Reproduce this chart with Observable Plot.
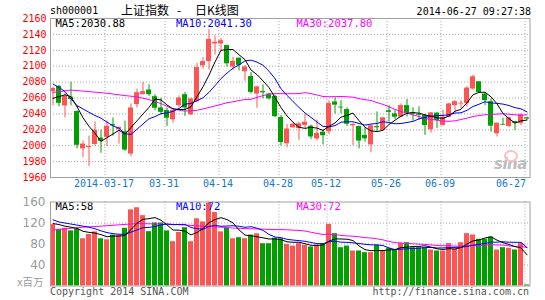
<!DOCTYPE html>
<html>
<head>
<meta charset="utf-8">
<script src="https://cdn.jsdelivr.net/npm/d3@7"></script>
<script src="https://cdn.jsdelivr.net/npm/@observablehq/plot@0.6"></script>
<style>
html,body{margin:0;padding:0;background:#fff;}
#wrap{position:relative;width:545px;height:300px;overflow:hidden;background:#fff;}
.t{position:absolute;white-space:pre;font-family:"DejaVu Sans Mono",monospace;font-size:10px;line-height:12px;color:#000;}
.cjk{font-family:"Noto Sans CJK SC",sans-serif;font-size:12px;line-height:14px;}
#main{position:absolute;left:0;top:0;}
#vol{position:absolute;left:0;top:190px;}
svg{overflow:visible;}
</style>
</head>
<body>
<div id="wrap">
  <div id="main"></div>
  <div id="vol"></div>
</div>
<script>
// ---------- data ----------
const dates = ["03-04","03-05","03-06","03-07","03-10","03-11","03-12","03-13","03-14","03-17",
"03-18","03-19","03-20","03-21","03-24","03-25","03-26","03-27","03-28","03-31",
"04-01","04-02","04-03","04-04","04-08","04-09","04-10","04-11","04-14","04-15",
"04-16","04-17","04-18","04-21","04-22","04-23","04-24","04-25","04-28","04-29",
"04-30","05-05","05-06","05-07","05-08","05-09","05-12","05-13","05-14","05-15",
"05-16","05-19","05-20","05-21","05-22","05-23","05-26","05-27","05-28","05-29",
"05-30","06-03","06-04","06-05","06-06","06-09","06-10","06-11","06-12","06-13",
"06-16","06-17","06-18","06-19","06-20","06-23","06-24","06-25","06-26","06-27"];

const open = [2068,2074.6,2050,2061,2043,1996,1997.6,2001.5,2009.5,2010.5,
2026.5,2020.5,2017.5,1989.5,2051.7,2064.2,2070,2061.7,2047.5,2044.2,
2032.5,2050.4,2064.2,2038.8,2055.4,2100.4,2105.8,2128,2128,2126,
2099,2110,2093,2087,2065,2068,2065,2062,2035.5,2002.5,
2022.5,2021.5,2025.5,2024.5,2008.5,2017,2017.5,2055,2048.5,2045.5,
2025,2024.2,2013,2001,2024,2019.2,2044,2040,2035.8,2050.4,
2041,2039,2038,2020,2041,2025.4,2035.8,2050.4,2052.5,2053,
2071.25,2080.4,2065,2055.4,2015,2026.7,2024.2,2030.4,2028,2035];
const high = [2073.5,2076,2066,2080,2044,2006,2012,2030,2019.5,2031,
2035,2023.5,2031,2052.5,2071.3,2079.6,2076.7,2064,2059.6,2047.5,
2046,2062.5,2067,2059.6,2103.3,2110.8,2146,2138,2135,2126.5,
2111,2110.5,2101,2092,2074.5,2076.5,2066,2063.5,2038,2026.7,
2029,2029.6,2040,2026,2032,2020,2056.5,2060,2056.7,2047.5,
2028.3,2024.5,2022.5,2026.7,2042.5,2035.8,2050.4,2045,2052.5,2058,
2047.5,2049,2039,2041.5,2041.5,2045,2053.3,2056.7,2056.7,2074.2,
2088.75,2080.4,2066,2058.75,2028.3,2034.6,2035.8,2030.4,2040,2036];
const low = [2050,2049,2035,2050,1996,1985,1974,2000,1990.5,1999,
2012,2002,1993,1986,2047.5,2064,2061.7,2044,2038.8,2024.2,
2028.3,2048.3,2037,2038,2054.6,2096.3,2095,2114,2119,2099,
2095,2094,2081,2065,2047,2059,2057.5,2035.5,1999.5,1997.5,
2022,2006.7,2022,2008,2006,2001,2014,2040,2040,2024,
2000.4,1996,2004.5,1991,2017,2018.5,2029.6,2033,2035,2036,
2030.8,2032,2013,2015.8,2021.7,2025,2035,2042,2046.3,2048.3,
2070,2065.8,2050.4,2017,2010.8,2025.5,2022.5,2019,2025.4,2032];
const close = [2072,2053.3,2062,2058,2000.5,2002,1999,2019.5,2005.5,2024.5,
2025,2023,1994.5,2047.5,2066.7,2068,2064.2,2047.1,2042,2034.6,
2044.2,2060,2047.5,2058.8,2098.3,2105.8,2133.75,2130,2132,2103,
2106,2101,2099,2067,2074,2066.5,2059,2036.5,2004,2021,
2027,2027.5,2029.5,2011,2015.5,2012.5,2053,2051,2047.5,2027,
2026.7,2005.8,2008.7,2025,2022.5,2035,2042,2035.8,2050.4,2040.8,
2039.5,2038,2025.4,2041.25,2031.7,2035.8,2052.5,2055.4,2053.5,2072.5,
2086.7,2067,2056.7,2024.6,2028.3,2025.8,2035,2028.3,2038.75,2033.5];
// volume, x百万
const volume = [117,108,110,105,108,90,98,103,90,88,
97,97,110,145,149,134,103.5,120,120,105,
84.4,102,111,84.4,128,122,158,140,103,109.8,
90,92,90,97,99.5,80.5,80.5,91,90,79,
76,80.6,77.5,74.3,78,79.4,117.5,99.7,73,76,
66.7,66.7,63.5,63.5,77.5,66.7,71.7,68,81.3,82.5,
73,73,73,68.6,66.7,66.7,80.6,69.8,82.5,99.7,
97.1,89,89,93.3,68.6,73,71.7,68.6,81.3,2];

// moving-average lines as read at the left edge (before a full window exists)
const ma5Head = [2059.6,2061.7,2064,2061.7,2049.2];
const ma10Head = [2077.5,2073.3,2068,2058.8,2050.4,2046.3,2042,2038,2034.6,2029.6];
const ma30HeadIdx = [0,3,6,9,12,14,16,18,20,22,24,26,28,29];
const ma30Head = [2067,2070,2068,2066,2063,2061.5,2058,2053,2046,2043.5,2044.5,2048,2052,2054.1];
const vma5Head = [119,117,114,112,109.6];
const vma10Head = [126,122,120,118,116,114,112,109,105,101.7];
const vma30HeadIdx = [0,5,8,14,20,25,29];
const vma30Head = [106.7,112,114,119,117.5,114,111.3];

const tickDates = ["03-17","03-31","04-14","04-28","05-12","05-26","06-09","06-27"];
const tickLabels = ["2014-03-17","03-31","04-14","04-28","05-12","05-26","06-09","06-27"];
const priceTicks = [1960,1980,2000,2020,2040,2060,2080,2100,2120,2140,2160];
const priceGrid = [1980,2000,2020,2040,2060,2080,2100,2120,2140];
const volTicks = [40,80,120,160];
const volGrid = [40,80,120];
const legendMain = ["MA5:2030.88","MA10:2041.30","MA30:2037.80"];
const legendVol = ["MA5:58","MA10:72","MA30:72"];

// ---------- style ----------
const RED = "#ff5454", GREEN = "#00a000", GRID = "#a8a8a8", FRAME = "#a0a0a0";
const MA_COLORS = ["#000000","#0000ff","#ff00ff"];
const AXIS_BLUE = "#1478c8";
const FONT = "'DejaVu Sans Mono', monospace";

const rows = dates.map((d, i) => ({i, date: d, o: open[i], h: high[i], l: low[i], c: close[i], v: volume[i], up: close[i] >= open[i]}));
const tickIdx = tickDates.map(d => dates.indexOf(d));
const xDomain = [-5/12, 79.5];
const dotted = {stroke: GRID, strokeOpacity: 1, strokeDasharray: "1,2", strokeWidth: 1};
const colorOf = d => d.up ? RED : GREEN;
const legendDx = [5, 125.5, 246];

function maMarks(key, heads, head30Idx, head30) {
  return [
    Plot.line(head30Idx, {x: d => d, y: (d, i) => head30[i], stroke: MA_COLORS[2], strokeWidth: 1}),
    Plot.line(rows, Plot.windowY({k: 30, anchor: "end", reduce: "mean", strict: true}, {x: "i", y: key, stroke: MA_COLORS[2], strokeWidth: 1})),
    Plot.line(heads[1], {x: (d, i) => i, y: d => d, stroke: MA_COLORS[1], strokeWidth: 1}),
    Plot.line(rows, Plot.windowY({k: 10, anchor: "end", reduce: "mean", strict: true}, {x: "i", y: key, stroke: MA_COLORS[1], strokeWidth: 1})),
    Plot.line(heads[0], {x: (d, i) => i, y: d => d, stroke: MA_COLORS[0], strokeWidth: 1}),
    Plot.line(rows, Plot.windowY({k: 5, anchor: "end", reduce: "mean", strict: true}, {x: "i", y: key, stroke: MA_COLORS[0], strokeWidth: 1}))
  ];
}
function legendMarks(labels, dy) {
  return labels.map((t, j) => Plot.text([t], {frameAnchor: "top-left", dx: legendDx[j], dy, fill: MA_COLORS[j], textAnchor: "start", lineAnchor: "middle", fontSize: 10.5, fontFamily: FONT}));
}

const main = Plot.plot({
  width: 545, height: 190,
  marginLeft: 50, marginRight: 15.5, marginTop: 18, marginBottom: 13,
  x: {domain: xDomain, axis: null},
  y: {domain: [1960, 2160], axis: null},
  color: {type: "identity"},
  style: {fontFamily: FONT, fontSize: "10px", background: "transparent", overflow: "visible"},
  marks: [
    Plot.ruleY(priceGrid, {y: d => d, ...dotted}),
    Plot.ruleX(tickIdx, {x: d => d, dx: -2, ...dotted}),
    Plot.axisY(priceTicks, {anchor: "left", tickSize: 0, tickPadding: 4, color: "#ff0000", tickFormat: d => String(d), label: null, fontSize: 10}),
    Plot.ruleX(rows, {x: "i", y1: "l", y2: "h", stroke: colorOf, strokeWidth: 1}),
    Plot.rectY(rows, {x1: d => d.i - 5/12, x2: d => d.i + 5/12, y1: "o", y2: "c", fill: colorOf}),
    ...maMarks("c", [ma5Head, ma10Head], ma30HeadIdx, ma30Head),
    ...legendMarks(legendMain, 5.5),
    Plot.text(tickLabels.slice(0, -1), {x: (d, i) => tickIdx[i], frameAnchor: "bottom", dy: 9.5, dx: -3, fill: AXIS_BLUE, fontSize: 10, fontFamily: FONT}),
    Plot.text(tickLabels.slice(-1), {x: () => tickIdx[tickIdx.length - 1], frameAnchor: "bottom", dy: 9.5, dx: -1, textAnchor: "end", fill: AXIS_BLUE, fontSize: 10, fontFamily: FONT}),
    Plot.frame({stroke: FRAME})
  ]
});
document.getElementById("main").appendChild(main);

const vol = Plot.plot({
  width: 545, height: 110,
  marginLeft: 50, marginRight: 15.5, marginTop: 11.5, marginBottom: 14.5,
  x: {domain: xDomain, axis: null},
  y: {domain: [0, 160], axis: null},
  color: {type: "identity"},
  style: {fontFamily: FONT, fontSize: "10px", background: "transparent", overflow: "visible"},
  marks: [
    Plot.ruleY(volGrid, {y: d => d, ...dotted}),
    Plot.ruleX(tickIdx, {x: d => d, dx: -2, ...dotted}),
    Plot.axisY(volTicks, {anchor: "left", tickSize: 0, tickPadding: 5, color: "#9a9a9a", tickFormat: d => String(d), label: null, fontSize: 12, fontFamily: "'DejaVu Sans', sans-serif"}),
    Plot.text(["x百万"], {frameAnchor: "bottom-left", dx: -7, textAnchor: "end", fill: "#9a9a9a", fontSize: 10.5, fontFamily: "'Noto Sans CJK SC', sans-serif"}),
    Plot.rectY(rows, {x1: d => d.i - 5/12, x2: d => d.i + 5/12, y1: 0, y2: "v", fill: colorOf}),
    ...maMarks("v", [vma5Head, vma10Head], vma30HeadIdx, vma30Head),
    ...legendMarks(legendVol, 5),
    Plot.frame({stroke: FRAME})
  ]
});
document.getElementById("vol").appendChild(vol);

// ---------- header / footer text ----------
const header = [
  {text: "sh000001", cls: "t", style: "left:50px;top:5px;"},
  {text: "上证指数", cls: "t cjk", style: "left:121px;top:3px;"},
  {text: "-", cls: "t cjk", style: "left:177px;top:3px;"},
  {text: "日K线图", cls: "t cjk", style: "left:195px;top:3px;"},
  {text: "2014-06-27 09:27:38", cls: "t", style: "right:14px;top:6px;"},
  {text: "Copyright 2014 SINA.COM", cls: "t", style: "left:50px;top:286px;color:#555;"},
  {text: "http://finance.sina.com.cn", cls: "t", style: "right:16px;top:286px;color:#555;"},
  {text: "sina", cls: "t", style: "left:494px;top:156px;font-family:'DejaVu Sans',sans-serif;font-weight:bold;font-style:italic;font-size:15px;line-height:16px;color:#bdbdbd;letter-spacing:-0.5px;"}
];
const wrap = document.getElementById("wrap");
for (const h of header) {
  const el = document.createElement("div");
  el.className = h.cls;
  el.setAttribute("style", h.style);
  el.textContent = h.text;
  wrap.appendChild(el);
}
const eye = document.createElement("div");
eye.setAttribute("style", "position:absolute;left:504px;top:150px;width:10px;height:8px;border:2px solid #f6c2c4;border-radius:50%;");
wrap.appendChild(eye);
</script>
</body>
</html>
